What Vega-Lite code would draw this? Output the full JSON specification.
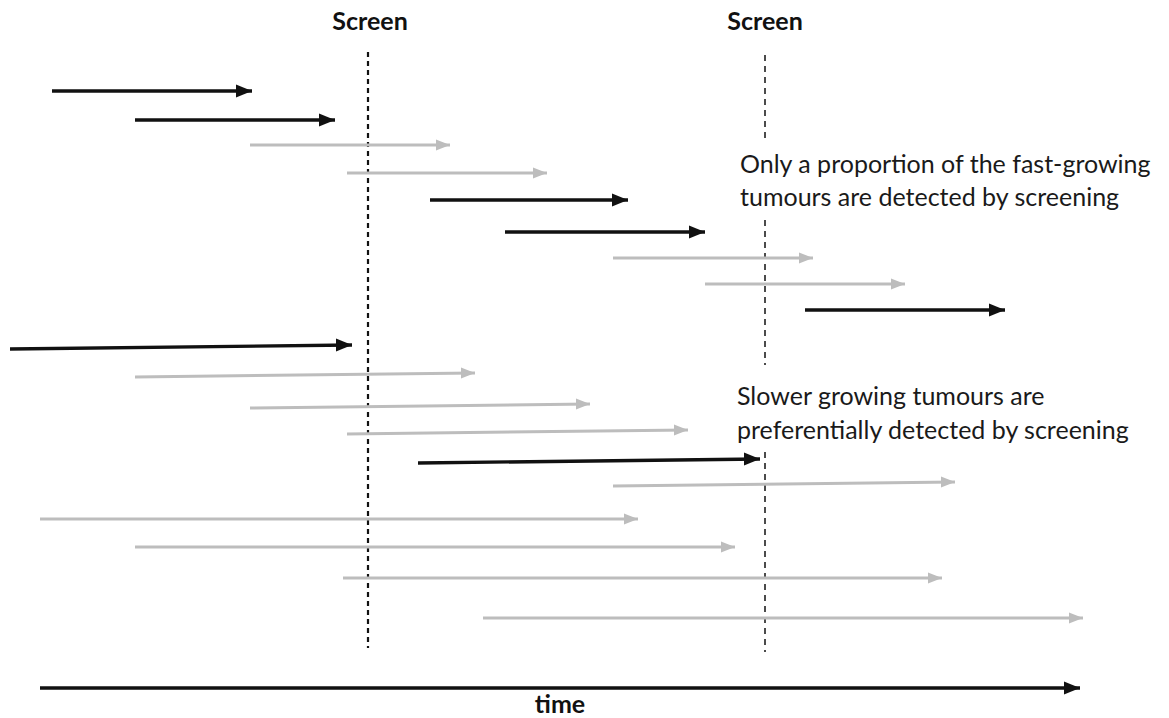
{
  "$schema": "https://vega.github.io/schema/vega-lite/v6.json",
  "width": 1169,
  "height": 718,
  "padding": 0,
  "autosize": {"type": "fit", "contains": "padding"},
  "background": "white",
  "config": {"view": {"stroke": null}},
  "datasets": {
    "arrows": [
      {"x": 52, "x2": 252, "y": 91, "y2": 91, "kind": "fast"},
      {"x": 135, "x2": 335, "y": 120, "y2": 120, "kind": "fast"},
      {"x": 250, "x2": 450, "y": 145, "y2": 145, "kind": "slow"},
      {"x": 347, "x2": 547, "y": 173, "y2": 173, "kind": "slow"},
      {"x": 430, "x2": 628, "y": 200, "y2": 200, "kind": "fast"},
      {"x": 505, "x2": 705, "y": 232, "y2": 232, "kind": "fast"},
      {"x": 613, "x2": 813, "y": 258, "y2": 258, "kind": "slow"},
      {"x": 705, "x2": 905, "y": 284, "y2": 284, "kind": "slow"},
      {"x": 805, "x2": 1005, "y": 310, "y2": 310, "kind": "fast"},
      {"x": 10, "x2": 352, "y": 349, "y2": 345, "kind": "fast"},
      {"x": 135, "x2": 475, "y": 377, "y2": 373, "kind": "slow"},
      {"x": 250, "x2": 590, "y": 408, "y2": 404, "kind": "slow"},
      {"x": 347, "x2": 688, "y": 434, "y2": 430, "kind": "slow"},
      {"x": 418, "x2": 760, "y": 463, "y2": 459, "kind": "fast"},
      {"x": 613, "x2": 955, "y": 486, "y2": 482, "kind": "slow"},
      {"x": 40, "x2": 638, "y": 519, "y2": 519, "kind": "slow"},
      {"x": 135, "x2": 735, "y": 547, "y2": 547, "kind": "slow"},
      {"x": 343, "x2": 942, "y": 578, "y2": 578, "kind": "slow"},
      {"x": 483, "x2": 1083, "y": 618, "y2": 618, "kind": "slow"},
      {"x": 40, "x2": 1080, "y": 688, "y2": 688, "kind": "fast"}
    ],
    "screens": [
      {"x": 368, "y": 52, "y2": 648, "w": "bold"},
      {"x": 765, "y": 55, "y2": 140, "w": "thin"},
      {"x": 765, "y": 220, "y2": 365, "w": "thin"},
      {"x": 765, "y": 452, "y2": 652, "w": "thin"}
    ],
    "labels": [
      {"text": "Screen", "x": 370, "y": 22},
      {"text": "Screen", "x": 765, "y": 22},
      {"text": "time", "x": 560, "y": 705}
    ],
    "notes": [
      {"text": "Only a proportion of the fast-growing", "x": 740, "y": 165},
      {"text": "tumours are detected by screening", "x": 740, "y": 198},
      {"text": "Slower growing tumours are", "x": 737, "y": 397},
      {"text": "preferentially detected by screening", "x": 737, "y": 431}
    ]
  },
  "layer": [
    {
      "data": {"name": "screens"},
      "transform": [{"filter": "datum.w == 'bold'"}],
      "mark": {"type": "rule", "color": "#111111", "strokeDash": [5, 4], "strokeWidth": 2.2},
      "encoding": {
        "x": {"field": "x", "type": "quantitative", "scale": {"domain": [0, 1169], "nice": false, "zero": false}, "axis": null},
        "y": {"field": "y", "type": "quantitative", "scale": {"domain": [0, 718], "reverse": true, "nice": false, "zero": false}, "axis": null},
        "y2": {"field": "y2"}
      }
    },
    {
      "data": {"name": "screens"},
      "transform": [{"filter": "datum.w == 'thin'"}],
      "mark": {"type": "rule", "color": "#111111", "strokeDash": [6, 5], "strokeWidth": 1.5},
      "encoding": {
        "x": {"field": "x", "type": "quantitative", "axis": null},
        "y": {"field": "y", "type": "quantitative", "axis": null},
        "y2": {"field": "y2"}
      }
    },
    {
      "data": {"name": "arrows"},
      "transform": [{"filter": "datum.kind == 'slow'"}],
      "mark": {"type": "rule", "strokeCap": "butt", "color": "#bdbdbd", "strokeWidth": 3},
      "encoding": {
        "x": {"field": "x", "type": "quantitative", "axis": null},
        "x2": {"field": "x2"},
        "y": {"field": "y", "type": "quantitative", "axis": null},
        "y2": {"field": "y2"}
      }
    },
    {
      "data": {"name": "arrows"},
      "transform": [{"filter": "datum.kind == 'slow'"}],
      "mark": {"type": "point", "filled": true, "opacity": 1, "color": "#bdbdbd", "size": 196, "shape": "M -2 -0.8 L 0 0 L -2 0.8 Z"},
      "encoding": {
        "x": {"field": "x2", "type": "quantitative", "axis": null},
        "y": {"field": "y2", "type": "quantitative", "axis": null}
      }
    },
    {
      "data": {"name": "arrows"},
      "transform": [{"filter": "datum.kind == 'fast'"}],
      "mark": {"type": "rule", "strokeCap": "butt", "color": "#111111", "strokeWidth": 3.4},
      "encoding": {
        "x": {"field": "x", "type": "quantitative", "axis": null},
        "x2": {"field": "x2"},
        "y": {"field": "y", "type": "quantitative", "axis": null},
        "y2": {"field": "y2"}
      }
    },
    {
      "data": {"name": "arrows"},
      "transform": [{"filter": "datum.kind == 'fast'"}],
      "mark": {"type": "point", "filled": true, "opacity": 1, "color": "#111111", "size": 256, "shape": "M -2 -0.8 L 0 0 L -2 0.8 Z"},
      "encoding": {
        "x": {"field": "x2", "type": "quantitative", "axis": null},
        "y": {"field": "y2", "type": "quantitative", "axis": null}
      }
    },
    {
      "data": {"name": "labels"},
      "mark": {"type": "text", "font": "Lato", "fontSize": 25, "fontWeight": "bold", "align": "center", "baseline": "middle", "color": "#111111"},
      "encoding": {
        "x": {"field": "x", "type": "quantitative", "axis": null},
        "y": {"field": "y", "type": "quantitative", "axis": null},
        "text": {"field": "text"}
      }
    },
    {
      "data": {"name": "notes"},
      "mark": {"type": "text", "font": "Lato", "fontSize": 25, "align": "left", "baseline": "middle", "color": "#1a1a1a"},
      "encoding": {
        "x": {"field": "x", "type": "quantitative", "axis": null},
        "y": {"field": "y", "type": "quantitative", "axis": null},
        "text": {"field": "text"}
      }
    }
  ]
}
